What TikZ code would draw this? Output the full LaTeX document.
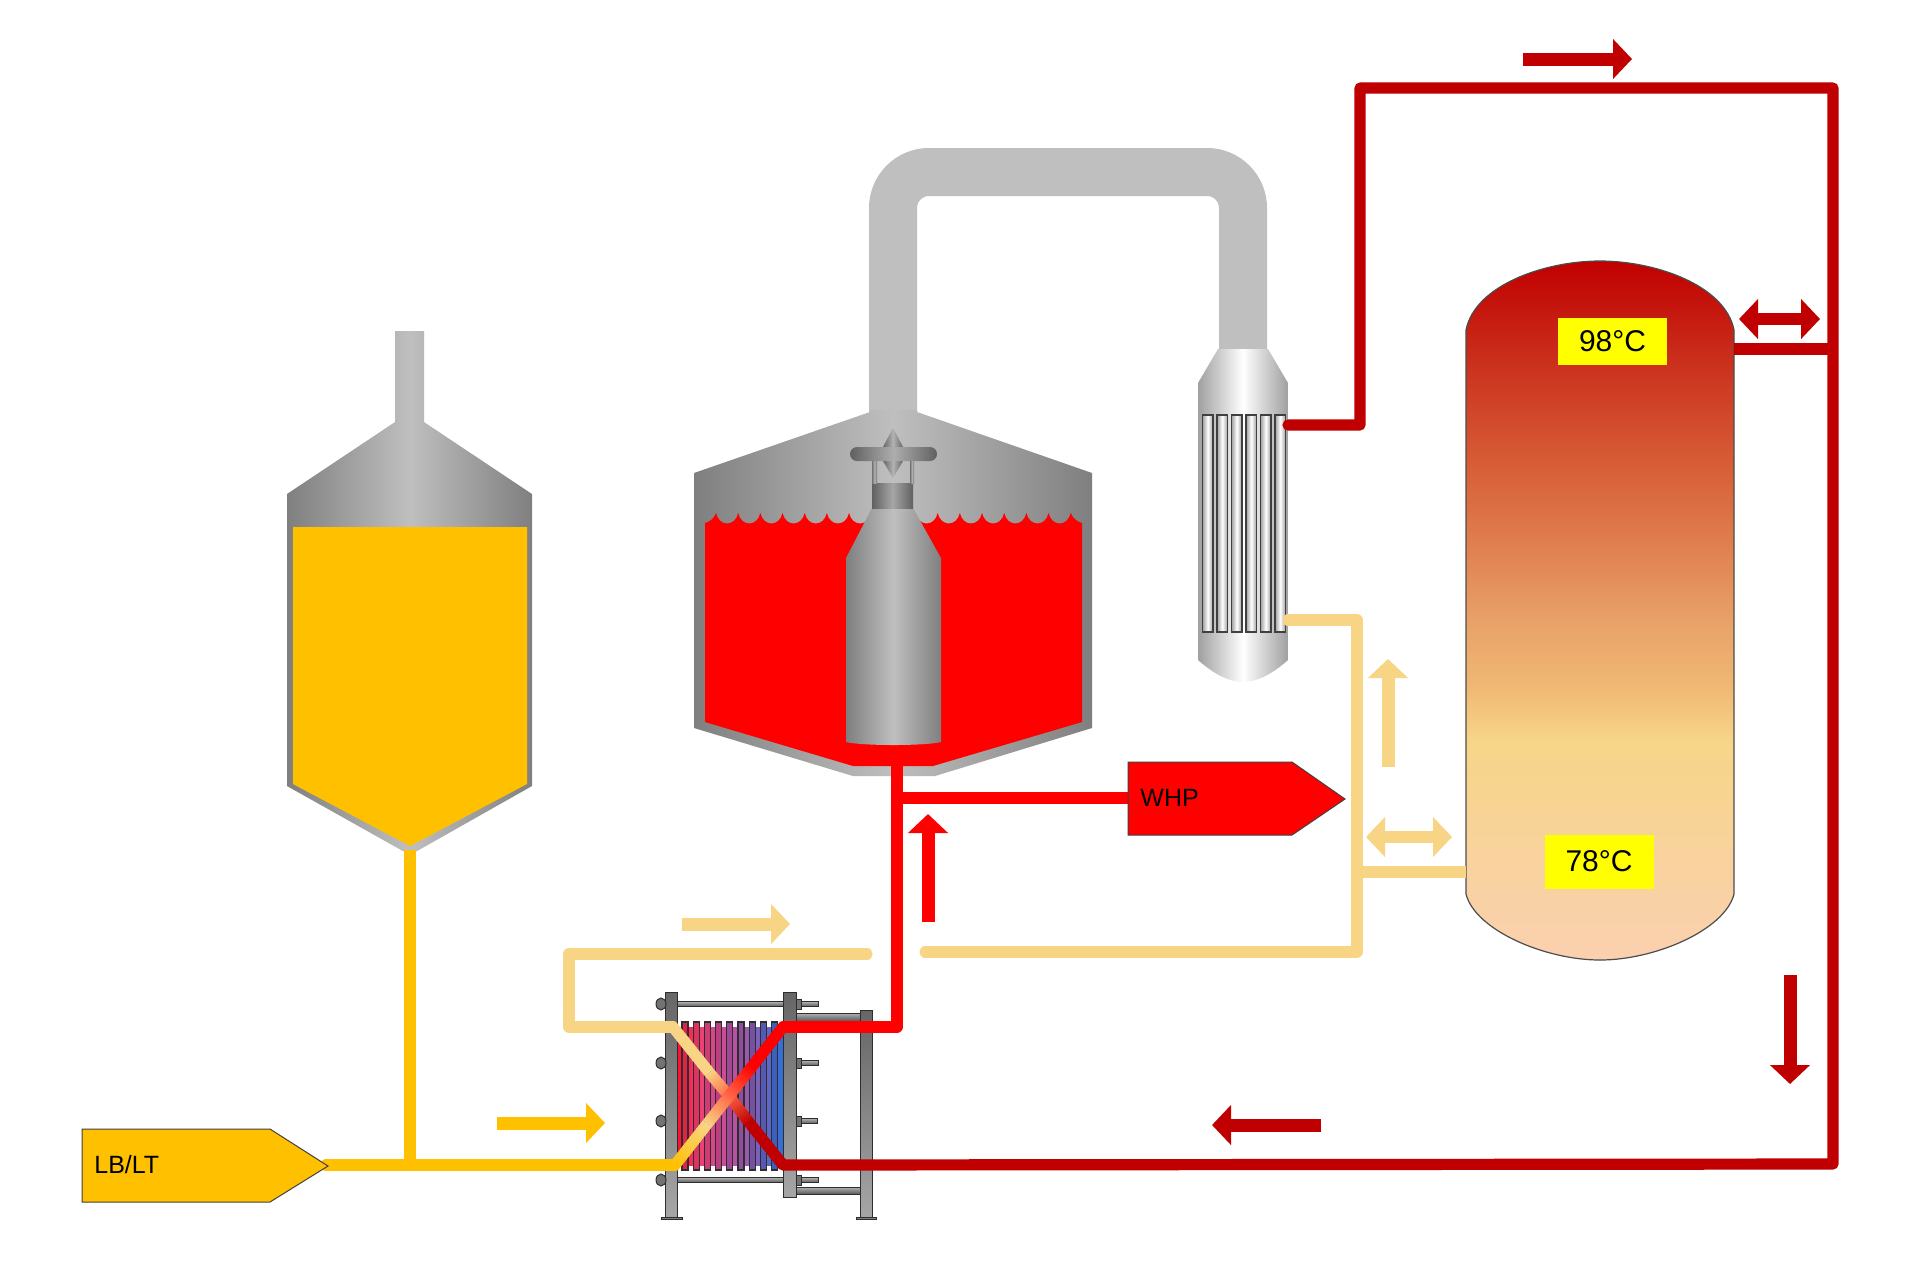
\documentclass[tikz,border=0pt]{standalone}
\usepackage{fontspec}
\setmainfont{Liberation Sans}
\usetikzlibrary{arrows.meta,calc}
\definecolor{hotred}{HTML}{C00000}
\definecolor{brightred}{HTML}{FF0000}
\definecolor{warmtan}{HTML}{F8D585}
\definecolor{malt}{HTML}{FFC000}
\definecolor{pipegray}{HTML}{BFBFBF}
\definecolor{steeledge}{HTML}{7F7F7F}
\definecolor{hxdark}{HTML}{2E2E2E}
\definecolor{tantop}{HTML}{C00000}
\definecolor{tanb}{HTML}{CC3520}
\definecolor{tanc}{HTML}{D86038}
\definecolor{tand}{HTML}{E08050}
\definecolor{tane}{HTML}{E8A068}
\definecolor{tanf}{HTML}{F0B873}
\definecolor{tang}{HTML}{F7D588}
\definecolor{tanh}{HTML}{FAD0B0}
\definecolor{hxa}{HTML}{FF1030}
\definecolor{hxb}{HTML}{EE4070}
\definecolor{hxc}{HTML}{C050A0}
\definecolor{hxd}{HTML}{8060B8}
\definecolor{hxe}{HTML}{2F70D8}
\definecolor{shelledge}{HTML}{A0A0A0}
\definecolor{labelyellow}{RGB}{255,255,0}
\definecolor{crossmix}{HTML}{FF6A48}
\pgfdeclareverticalshading{storagegrad}{100bp}{%
 color(0bp)=(tanh); color(25bp)=(tanh); color(40.75bp)=(tang); color(44.5bp)=(tanf);
 color(49.5bp)=(tane); color(54.5bp)=(tand); color(60bp)=(tanc); color(67bp)=(tanb);
 color(75bp)=(tantop); color(100bp)=(tantop)}
\pgfdeclarehorizontalshading{hxgrad}{100bp}{%
 color(0bp)=(hxa); color(25bp)=(hxa); color(35bp)=(hxb); color(50bp)=(hxc);
 color(62bp)=(hxd); color(75bp)=(hxe); color(100bp)=(hxe)}
\tikzset{
 pipe/.style={line width=5.6pt,line cap=round,line join=round},
 diagpipe/.style={line width=5.6pt,line cap=butt},
 flowarrow/.style={line width=6.5pt,-{Triangle[length=9.5pt,width=19.5pt]}},
 twoway/.style={line width=6pt,{Triangle[length=9.5pt,width=19.5pt]}-{Triangle[length=9.5pt,width=19.5pt]}},
 steel/.style={left color=steeledge,right color=steeledge,middle color=pipegray},
 shell/.style={left color=shelledge,right color=shelledge,middle color=white},
 tube/.style={draw=black!75,line width=0.8pt,left color=shelledge,right color=shelledge,middle color=white},
 hxmetal/.style={draw=hxdark,line width=0.5pt,top color=black!60,bottom color=black!35},
 hxrod/.style={draw=hxdark,line width=0.5pt,top color=black!30,bottom color=black!65},
 templabel/.style={fill=labelyellow,font=\fontsize{15}{18}\selectfont,text=black,inner sep=0pt,minimum width=54.5pt},
 taglabel/.style={font=\fontsize{12.5}{15}\selectfont,text=black,inner sep=0pt,anchor=west},
 tagshape/.style={draw=black!75,line width=0.5pt},
}
\newcommand\gradseg[4]{%
 \foreach \i in {1,...,14}{%
  \pgfmathsetmacro\pa{(\i-1)/14}%
  \pgfmathsetmacro\pb{min(1,(\i+.4)/14)}%
  \pgfmathtruncatemacro\pc{100*\i/14}%
  \colorlet{segcol}{#4!\pc!#3}%
  \draw[diagpipe,draw=segcol] ($(#1)!\pa!(#2)$) -- ($(#1)!\pb!(#2)$);
 }}
\begin{document}
\begin{tikzpicture}[x=0.5pt,y=-0.5pt]
\useasboundingbox (0,0) rectangle (1920,1260);
\fill[white] (0,0) rectangle (1920,1260);

% ---------- left malt tank
\shade[steel] (395,331) -- (424,331) -- (424,422) -- (532,494) -- (532,786) -- (410,855) -- (287,786) -- (287,494) -- (395,422) -- cycle;
\fill[malt] (293,527) -- (527,527) -- (527,784) -- (410,846) -- (293,784) -- cycle;

% ---------- vapour pipe
\coordinate (stub) at (893,420);
\coordinate (pipeA) at (893,172);
\coordinate (pipeB) at (1243,172);
\coordinate (condtop) at (1243,352);
\draw[pipegray,line width=24pt,rounded corners=18pt] (stub) -- (pipeA) -- (pipeB) -- (condtop);

% ---------- kettle
\shade[steel] (870,410) -- (917,410) -- (917,412) -- (1092,473) -- (1092,728) -- (935,776) -- (853,776) -- (694,728) -- (694,473) -- (870,412) -- cycle;
\fill[brightred] (705,523) .. controls (709,522) and (714,519) .. (716,513)
 \foreach \k in {1,...,16}{ .. controls +(3,14) and +(-3,14) .. ++(22.17,0) }
 .. controls (1073,519) and (1078,522) .. (1082,523)
 -- (1082,722) -- (933,766) -- (853,766) -- (705,722) -- cycle;

% stirrer / boiler
\shade[steel] (872,508) -- (913,508) -- (941,558) -- (941,742) .. controls (925,746) and (862,746) .. (846,742) -- (846,558) -- cycle;
\shade[left color=black!62,right color=black!62,middle color=black!35] (872,483) rectangle (913,508);
\shade[left color=black!55,right color=black!55,middle color=black!30] (872,461) rectangle (877,483);
\shade[left color=black!55,right color=black!55,middle color=black!30] (910,461) rectangle (914,483);
\shade[left color=black!60,right color=black!60,middle color=black!30] (893,428) -- (903,447) -- (883,447) -- cycle;
\shade[left color=black!60,right color=black!60,middle color=black!30] (883,461) -- (903,461) -- (893,478) -- cycle;
\shade[left color=black!62,right color=black!62,middle color=black!32,rounded corners=3.5pt] (850,447) rectangle (937,461);

% ---------- condenser
\shade[shell] (1218,349) -- (1268,349) -- (1288,383) -- (1288,660) .. controls (1270,676) and (1255,682) .. (1243,682) .. controls (1231,682) and (1216,676) .. (1198,660) -- (1198,383) -- cycle;
\foreach \k in {0,...,5}{
 \shade[tube] ({1202.5+14.5*\k},415) rectangle ++(10.5,217);
}

% ---------- storage tank
\shade[shading=storagegrad] (1466,330) .. controls (1475,285) and (1545,261) .. (1600,261) .. controls (1655,261) and (1725,285) .. (1734,330)
 -- (1734,894) .. controls (1725,930) and (1655,960) .. (1600,960) .. controls (1545,960) and (1475,930) .. (1466,894) -- cycle;
\draw[black!70,line width=0.6pt] (1466,330) .. controls (1475,285) and (1545,261) .. (1600,261) .. controls (1655,261) and (1725,285) .. (1734,330)
 -- (1734,894) .. controls (1725,930) and (1655,960) .. (1600,960) .. controls (1545,960) and (1475,930) .. (1466,894) -- cycle;
\node[templabel,minimum height=23.5pt] (hot) at (1612.5,341.5) {98°C};
\node[templabel,minimum height=27pt] (warm) at (1599,861.5) {78°C};

% ---------- heat exchanger frame
\draw[hxrod] (677,1001.5) rectangle (818,1006.5);
\draw[hxrod] (677,1177.5) rectangle (818,1182.5);
\draw[hxrod] (796,1060.5) rectangle (818,1065.5);
\draw[hxrod] (796,1118.5) rectangle (817,1123.5);
\draw[hxrod] (796,1013) rectangle (860,1021);
\draw[hxrod] (796,1187) rectangle (860,1194);
\shade[shading=hxgrad] (678,1027) rectangle (783,1165);
\foreach \k/\c in {0/F02850,1/EC3A68,2/E04080,3/CC4590,4/B04DA0,5/9A55A8,6/8058B0,7/5F60C0,8/4068D0}{
 \definecolor{fincol}{HTML}{\c}
 \draw[hxdark,line width=0.6pt,fill=fincol!92!black] ({682+11.2*\k},1022) rectangle ++(6,148);
}
\draw[hxmetal] (665,992) rectangle (677,1217);
\draw[hxmetal] (783,992) rectangle (796,1197);
\draw[hxmetal] (860,1010) rectangle (872,1217);
\draw[hxmetal] (661,1217) rectangle (682,1219.5);
\draw[hxmetal] (856,1217) rectangle (876,1219.5);
\foreach \y in {1004,1063,1121,1180}{
 \draw[hxdark,line width=0.5pt,fill=black!55] (661,\y) ellipse [x radius=5,y radius=6];
 \draw[hxdark,line width=0.5pt,fill=black!55] (796,{\y-5}) rectangle (801,{\y+5});
}

% ---------- connection points
\coordinate (lbltTip) at (326,1165);
\coordinate (hxIn) at (675,1165);
\coordinate (hxCentre) at (729,1096);
\coordinate (hxOutRed) at (783,1027);
\coordinate (hxTanIn) at (673,1027);
\coordinate (hxOutDark) at (783,1165);
\coordinate (maltDrop) at (410,850);
\coordinate (maltJoin) at (410,1165);
\coordinate (kettleOut) at (897,766);
\coordinate (kettleBend) at (897,1027);
\coordinate (whpJoin) at (897,798);
\coordinate (whpIn) at (1128,798);
\coordinate (condHot) at (1288,425);
\coordinate (hotA) at (1360,425);
\coordinate (hotB) at (1360,88);
\coordinate (hotC) at (1833,88);
\coordinate (hotD) at (1833,1164);
\coordinate (tankHot) at (1734,349);
\coordinate (hotJoin) at (1833,349);
\coordinate (condCold) at (1288,620);
\coordinate (coldA) at (1357,620);
\coordinate (coldB) at (1357,952);
\coordinate (coldC) at (925,952);
\coordinate (tankCold) at (1466,872);
\coordinate (coldJoin) at (1357,872);
\coordinate (retA) at (867,954);
\coordinate (retB) at (569,954);
\coordinate (retC) at (569,1027);

% ---------- pipes
\draw[pipe,hotred] (condHot) -- (hotA) -- (hotB) -- (hotC) -- (hotD) -- (hxOutDark);
\draw[pipe,hotred,line cap=butt] (tankHot) -- (hotJoin);
\draw[pipe,warmtan] (condCold) -- (coldA) -- (coldB) -- (coldC);
\draw[pipe,warmtan,line cap=butt] (tankCold) -- (coldJoin);
\draw[pipe,warmtan] (retA) -- (retB) -- (retC) -- (hxTanIn);
\draw[pipe,brightred] (hxOutRed) -- (kettleBend) -- (kettleOut);
\draw[pipe,brightred,line cap=butt] (whpJoin) -- (whpIn);
\draw[pipe,malt] (lbltTip) -- (hxIn);
\draw[pipe,malt,line cap=butt] (maltDrop) -- (maltJoin);

% diagonal crossing, colour changing along the path
\coordinate (tanMid) at ($(hxTanIn)!0.33!(hxOutDark)$);
\coordinate (tanOut) at ($(hxTanIn)!0.7!(hxOutDark)$);
\coordinate (yelMid) at ($(hxIn)!0.3!(hxOutRed)$);
\coordinate (yelOut) at ($(hxIn)!0.72!(hxOutRed)$);
\gradseg{hxTanIn}{tanMid}{warmtan}{warmtan}
\gradseg{tanMid}{hxCentre}{warmtan}{crossmix}
\gradseg{hxCentre}{tanOut}{crossmix}{hotred}
\gradseg{tanOut}{hxOutDark}{hotred}{hotred}
\gradseg{hxIn}{yelMid}{malt}{warmtan}
\gradseg{yelMid}{hxCentre}{warmtan}{crossmix}
\gradseg{hxCentre}{yelOut}{crossmix}{brightred}
\gradseg{yelOut}{hxOutRed}{brightred}{brightred}

% ---------- tags
\draw[tagshape,fill=malt] (82,1129) -- (270,1129) -- (328,1166) -- (270,1202) -- (82,1202) -- cycle;
\node[taglabel] (lblt) at (94,1165) {LB/LT};
\draw[tagshape,fill=brightred] (1128,762) -- (1292,762) -- (1345,799) -- (1292,835) -- (1128,835) -- cycle;
\node[taglabel] (whp) at (1140,798) {WHP};

% ---------- flow arrows
\coordinate (f1a) at (1523,59); \coordinate (f1b) at (1632,59);
\coordinate (f2a) at (1739,319); \coordinate (f2b) at (1820,319);
\coordinate (f3a) at (1388,767); \coordinate (f3b) at (1388,659);
\coordinate (f4a) at (1366,837); \coordinate (f4b) at (1452,837);
\coordinate (f5a) at (928,922); \coordinate (f5b) at (928,814);
\coordinate (f6a) at (682,924); \coordinate (f6b) at (790,924);
\coordinate (f7a) at (497,1123); \coordinate (f7b) at (605,1123);
\coordinate (f8a) at (1321,1125); \coordinate (f8b) at (1212,1125);
\coordinate (f9a) at (1790,975); \coordinate (f9b) at (1790,1084);
\draw[flowarrow,hotred] (f1a) -- (f1b);
\draw[twoway,hotred] (f2a) -- (f2b);
\draw[flowarrow,warmtan] (f3a) -- (f3b);
\draw[twoway,warmtan] (f4a) -- (f4b);
\draw[flowarrow,brightred] (f5a) -- (f5b);
\draw[flowarrow,warmtan] (f6a) -- (f6b);
\draw[flowarrow,malt] (f7a) -- (f7b);
\draw[flowarrow,hotred] (f8a) -- (f8b);
\draw[flowarrow,hotred] (f9a) -- (f9b);
\end{tikzpicture}
\end{document}
